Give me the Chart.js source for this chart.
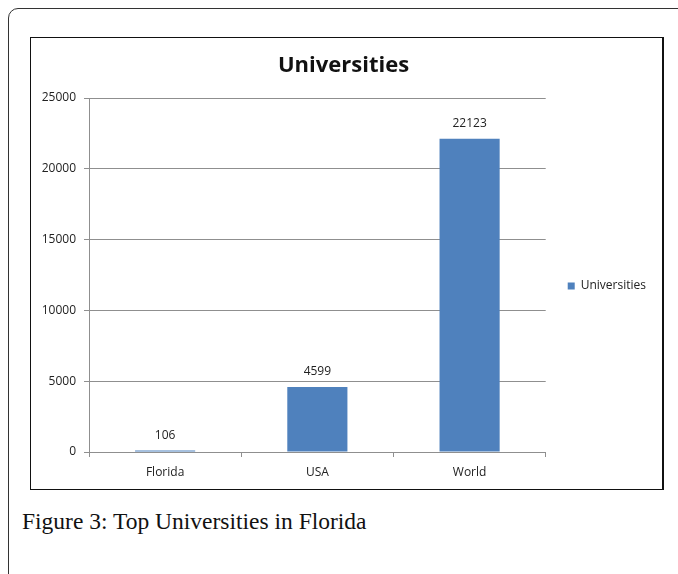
<!DOCTYPE html>
<html>
<head>
<meta charset="utf-8">
<script src="https://cdn.jsdelivr.net/npm/chart.js@4"></script>
<style>
  html, body { margin: 0; padding: 0; background: #fff; }
  body { width: 678px; height: 574px; position: relative; overflow: hidden; }
  #frame {
    position: absolute; left: 8px; top: 7.5px; width: 700px; height: 600px;
    border: 1.5px solid #333; border-top-left-radius: 10px; box-sizing: border-box;
  }
  #box {
    position: absolute; left: 30px; top: 37px; width: 634px; height: 453px;
    border: 1.5px solid #111; border-right-width: 2px; box-sizing: border-box;
  }
  #wrap { position: absolute; left: 31px; top: 38px; width: 632px; height: 451px; }
  #caption {
    position: absolute; left: 22px; top: 508px;
    font-family: "Liberation Serif", serif; font-size: 23.5px; color: #111;
  }
</style>
</head>
<body>
<div id="frame"></div>
<div id="box"></div>
<div id="wrap"><canvas id="chart" width="632" height="451"></canvas></div>
<div id="caption">Figure 3: Top Universities in Florida</div>
<script>
const categories = ['Florida', 'USA', 'World'];
const universities = [106, 4599, 22123];
const yTicks = [0, 5000, 10000, 15000, 20000, 25000];

const font = { family: '"Open Sans", sans-serif', size: 12 };

// value labels above each bar
const barLabels = {
    id: 'barLabels',
    afterDatasetsDraw(chart) {
        const ctx = chart.ctx;
        const meta = chart.getDatasetMeta(0);
        ctx.save();
        ctx.font = '12px "Open Sans", sans-serif';
        ctx.fillStyle = '#222';
        ctx.textAlign = 'center';
        ctx.textBaseline = 'middle';
        meta.data.forEach((bar, i) => {
            ctx.fillText(String(universities[i]), bar.x, bar.y - 15);
        });
        ctx.restore();
    }
};

new Chart(document.getElementById('chart'), {
    type: 'bar',
    data: {
        labels: categories,
        datasets: [{
            label: 'Universities',
            data: universities,
            backgroundColor: '#4f81bd',
            borderWidth: 0,
            barPercentage: 0.395,
            categoryPercentage: 1
        }]
    },
    options: {
        responsive: false,
        animation: false,
        layout: { padding: { top: 0, right: 7, bottom: 7, left: 0 } },
        scales: {
            x: {
                afterFit: (s) => { s.height = 30; },
                grid: { drawOnChartArea: false, drawTicks: true, tickLength: 5, color: '#8f8f8f' },
                border: { color: '#8f8f8f' },
                ticks: { font: font, color: '#222', padding: 8 }
            },
            y: {
                min: 0,
                max: 25000,
                afterFit: (s) => { s.width = 58; },
                afterBuildTicks: (s) => { s.ticks = yTicks.map(v => ({ value: v })); },
                grid: { color: '#8f8f8f', tickLength: 5 },
                border: { color: '#8f8f8f' },
                ticks: { font: font, color: '#222', padding: 8, callback: (v) => String(v) }
            }
        },
        plugins: {
            title: {
                display: true,
                text: 'Universities',
                color: '#111',
                font: { family: '"Open Sans", sans-serif', size: 22, weight: 'bold', lineHeight: 1.2 },
                padding: { top: 15, bottom: 18.6 }
            },
            legend: {
                position: 'right',
                title: { display: true, text: ' ', font: { size: 10, lineHeight: 1 }, padding: 21 },
                labels: {
                    boxWidth: 7,
                    boxHeight: 7,
                    padding: 22,
                    font: font,
                    color: '#222'
                }
            },
            tooltip: { enabled: false }
        }
    },
    plugins: [barLabels]
});
</script>
</body>
</html>
